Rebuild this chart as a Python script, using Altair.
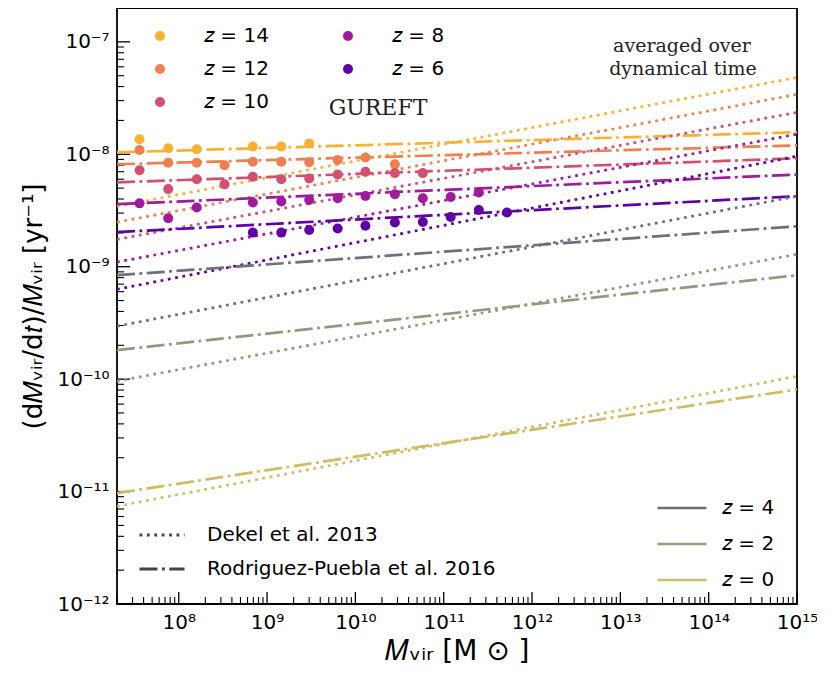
import altair as alt
import pandas as pd
import math

# ---------------- data ----------------
# GUREFT points (halo mass [Msun], specific accretion rate [1/yr])
M_14 = [3.6e7, 7.6e7, 1.6e8, 6.9e8, 1.45e9, 3.0e9]
R_14 = [1.36e-8, 1.13e-8, 1.11e-8, 1.17e-8, 1.17e-8, 1.25e-8]

M_12 = [3.6e7, 7.6e7, 1.6e8, 3.3e8, 6.9e8, 1.45e9, 3.0e9, 6.3e9, 1.3e10, 2.8e10]
R_12 = [1.09e-8, 8.4e-9, 8.4e-9, 8.0e-9, 8.6e-9, 8.6e-9, 8.5e-9, 8.9e-9, 9.35e-9, 8.15e-9]

M_10 = [3.6e7, 7.6e7, 1.6e8, 3.3e8, 6.9e8, 1.45e9, 3.0e9, 6.3e9, 1.3e10, 2.8e10, 5.8e10]
R_10 = [7.2e-9, 4.9e-9, 6.0e-9, 5.4e-9, 6.3e-9, 6.0e-9, 6.1e-9, 6.6e-9, 7.0e-9, 6.8e-9, 6.8e-9]

M_8 = [3.6e7, 7.6e7, 1.6e8, 6.9e8, 1.45e9, 3.0e9, 6.3e9, 1.3e10, 2.8e10, 5.8e10, 1.2e11, 2.5e11]
R_8 = [3.66e-9, 2.7e-9, 3.36e-9, 3.72e-9, 3.8e-9, 3.92e-9, 4.06e-9, 4.26e-9, 4.41e-9, 4.06e-9, 4.17e-9, 4.57e-9]

M_6 = [6.9e8, 1.45e9, 3.0e9, 6.3e9, 1.3e10, 2.8e10, 5.8e10, 1.2e11, 2.5e11, 5.2e11]
R_6 = [2.01e-9, 2.01e-9, 2.12e-9, 2.19e-9, 2.31e-9, 2.47e-9, 2.5e-9, 2.77e-9, 3.2e-9, 3.03e-9]

# model lines: values at the two ends of the mass range
Z_LINES = [14, 12, 10, 8, 6, 4, 2, 0]
M_ENDS = [2e7, 1e15]
DEKEL_LO = [3.45e-9, 2.49e-9, 1.75e-9, 1.10e-9, 6.3e-10, 2.96e-10, 9.6e-11, 7.4e-12]
DEKEL_HI = [4.83e-8, 3.41e-8, 2.36e-8, 1.51e-8, 9.6e-9, 4.24e-9, 1.29e-9, 1.06e-10]
RP_LO = [1.04e-8, 8.15e-9, 5.63e-9, 3.6e-9, 2.03e-9, 8.4e-10, 1.81e-10, 9.7e-12]
RP_HI = [1.57e-8, 1.2e-8, 9.2e-9, 6.6e-9, 4.24e-9, 2.29e-9, 8.4e-10, 8.1e-11]

METHODS = ["Dekel et al. 2013", "Rodriguez-Puebla et al. 2016"]

Y_MAJOR = [1e-12, 1e-11, 1e-10, 1e-9, 1e-8, 1e-7]
Y_LABELS = ["10⁻¹²", "10⁻¹¹", "10⁻¹⁰", "10⁻⁹", "10⁻⁸", "10⁻⁷"]
X_MAJOR = [1e8, 1e9, 1e10, 1e11, 1e12, 1e13, 1e14, 1e15]
X_LABELS = ["10⁸", "10⁹", "10¹⁰", "10¹¹", "10¹²", "10¹³", "10¹⁴", "10¹⁵"]

COLORS = {14: "#fbb130", 12: "#ef7f4f", 10: "#d24f72", 8: "#a01a9c",
          6: "#6001a6", 4: "#6e6f78", 2: "#9b9580", 0: "#cfbc64"}


def zlab(z):
    return f"𝑧 = {z}"


# ---------------- tables ----------------
pts = []
for z, ms, rs in [(14, M_14, R_14), (12, M_12, R_12), (10, M_10, R_10), (8, M_8, R_8), (6, M_6, R_6)]:
    for m, r in zip(ms, rs):
        pts.append({"M": m, "rate": r, "zlab": zlab(z)})
pts_df = pd.DataFrame(pts)

rows = []
for i, z in enumerate(Z_LINES):
    for meth, lo, hi in [(METHODS[0], DEKEL_LO[i], DEKEL_HI[i]), (METHODS[1], RP_LO[i], RP_HI[i])]:
        for m, r in zip(M_ENDS, [lo, hi]):
            rows.append({"M": m, "rate": r, "zlab": zlab(z), "method": meth, "key": f"{z}-{meth}"})
lines_df = pd.DataFrame(rows)

XDOM = [2e7, 1e15]
YDOM = [1e-12, 2e-7]
y_minor = [k * 10 ** e for e in range(-12, -6) for k in range(2, 10) if k * 10 ** e <= YDOM[1] * 1.0001]
x_minor = [k * 10 ** e for e in range(7, 15) for k in range(2, 10) if k * 10 ** e >= XDOM[0] * 0.9999]

W, H = 680, 596


def expr_labels(vals, labs):
    s = "''"
    for v, l in zip(vals, labs):
        e = round(math.log10(v))
        s = f"(round(log(datum.value)/LN10) == {e} ? '{l}' : {s})"
    return s


xs = alt.Scale(type="log", domain=XDOM, nice=False, zero=False)
ys = alt.Scale(type="log", domain=YDOM, nice=False, zero=False)

xaxis = alt.Axis(values=X_MAJOR, labelExpr=expr_labels(X_MAJOR, X_LABELS), ticks=False, domain=False,
                 grid=False, labelFont="DejaVu Sans", labelFontSize=20, labelColor="black",
                 labelPadding=8, labelOverlap=False, labelFlush=False,
                 title="𝑀ᵥᵢᵣ [M ⊙ ]", titleFont="DejaVu Sans", titleFontSize=28,
                 titleFontWeight="normal", titleColor="black", titlePadding=5)
yaxis = alt.Axis(values=Y_MAJOR, labelExpr=expr_labels(Y_MAJOR, Y_LABELS), ticks=False, domain=False,
                 grid=False, labelFont="DejaVu Sans", labelFontSize=20, labelColor="black",
                 labelPadding=8, labelOverlap=False, labelFlush=False,
                 title="(d𝑀ᵥᵢᵣ/d𝑡)/𝑀ᵥᵢᵣ [yr⁻¹]", titleFont="DejaVu Sans", titleFontSize=26,
                 titleFontWeight="normal", titleColor="black", titlePadding=10)

X = alt.X("M:Q", scale=xs, axis=xaxis)
Y = alt.Y("rate:Q", scale=ys, axis=yaxis)

# inward ticks
ytmaj = alt.Chart(pd.DataFrame({"rate": Y_MAJOR})).mark_rule(color="black", strokeWidth=1.3).encode(
    y=Y, x=alt.value(0), x2=alt.value(13))
ytmin = alt.Chart(pd.DataFrame({"rate": y_minor})).mark_rule(color="black", strokeWidth=1.1).encode(
    y=Y, x=alt.value(0), x2=alt.value(7))
xtmaj = alt.Chart(pd.DataFrame({"M": X_MAJOR})).mark_rule(color="black", strokeWidth=1.3).encode(
    x=X, y=alt.value(H), y2=alt.value(H - 12))
xtmin = alt.Chart(pd.DataFrame({"M": x_minor})).mark_rule(color="black", strokeWidth=1.1).encode(
    x=X, y=alt.value(H), y2=alt.value(H - 7))

lines = alt.Chart(lines_df).mark_line(strokeWidth=2.7, clip=True).encode(
    x=X, y=Y,
    color=alt.Color("zlab:N",
                    scale=alt.Scale(domain=[zlab(z) for z in Z_LINES], range=[COLORS[z] for z in Z_LINES]),
                    legend=alt.Legend(values=[zlab(4), zlab(2), zlab(0)], orient="none", legendX=539, legendY=474,
                                      title=None, symbolType="stroke", symbolSize=2400, symbolStrokeWidth=2.7,
                                      labelFont="DejaVu Sans", labelFontSize=20, labelColor="black",
                                      labelOffset=14, rowPadding=-17)),
    strokeDash=alt.StrokeDash("method:N",
                              scale=alt.Scale(domain=METHODS, range=[[2.8, 4.6], [18, 4.5, 2.8, 4.5]]),
                              legend=alt.Legend(orient="none", legendX=21, legendY=503, title=None,
                                                symbolType="stroke", symbolSize=2025, symbolStrokeWidth=2.8,
                                                symbolStrokeColor="#444444",
                                                labelFont="DejaVu Sans", labelFontSize=20, labelColor="black",
                                                labelOffset=21, rowPadding=-8, labelLimit=400)),
    detail="key:N",
)

PT_ORDER = [14, 12, 10, 8, 6]
points = alt.Chart(pts_df).mark_circle(size=100, opacity=1).encode(
    x=X, y=Y,
    color=alt.Color("zlab:N",
                    scale=alt.Scale(domain=[zlab(z) for z in PT_ORDER], range=[COLORS[z] for z in PT_ORDER]),
                    legend=alt.Legend(orient="none", legendX=33, legendY=18, title=None, columns=2,
                                      symbolType="circle", symbolSize=100, symbolOpacity=1,
                                      labelFont="DejaVu Sans", labelFontSize=20, labelColor="black",
                                      labelOffset=34, rowPadding=13, columnPadding=69)),
)


def label(text, x, y, size, font="DejaVu Serif"):
    return alt.Chart(pd.DataFrame({"t": [text]})).mark_text(
        font=font, fontSize=size, color="#222222", align="center", baseline="middle").encode(
        text="t:N", x=alt.value(x), y=alt.value(y))


texts = [label("GUREFT", 261, 100, 22), label("averaged over", 565, 38, 19), label("dynamical time", 566, 61, 19)]

chart = alt.layer(ytmaj, ytmin, xtmaj, xtmin, lines, points, *texts).resolve_scale(
    color="independent").properties(
    width=W, height=H,
    padding={"left": 109, "top": 0, "right": 20, "bottom": 72},
    autosize=alt.AutoSizeParams(type="none"),
    background="white",
).configure_view(stroke="black", strokeWidth=1.8)

chart.save("out.html", embed_options={"renderer": "svg", "actions": False})
